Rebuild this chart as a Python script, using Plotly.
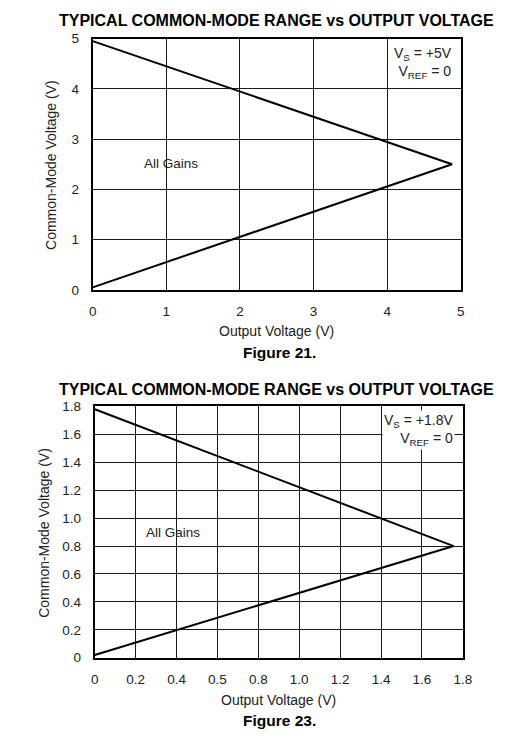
import plotly.graph_objects as go

W, H = 528, 752

# Figure 21 data (Vs = +5V)
x21 = [0.0, 4.88, 0.0]
y21 = [4.95, 2.5, 0.05]
x21_ticks = [0, 1, 2, 3, 4, 5]
x21_text = ["0", "1", "2", "3", "4", "5"]
y21_ticks = [0, 1, 2, 3, 4, 5]
y21_text = ["0", "1", "2", "3", "4", "5"]

# Figure 23 data (Vs = +1.8V)
x23 = [0.0, 1.755, 0.0]
y23 = [1.78, 0.80, 0.02]
x23_ticks = [0, 0.2, 0.4, 0.6, 0.8, 1.0, 1.2, 1.4, 1.6, 1.8]
x23_text = ["0", "0.2", "0.4", "0.5", "0.8", "1.0", "1.2", "1.4", "1.6", "1.8"]
y23_ticks = [0, 0.2, 0.4, 0.6, 0.8, 1.0, 1.2, 1.4, 1.6, 1.8]
y23_text = ["0", "0.2", "0.4", "0.6", "0.8", "1.0", "1.2", "1.4", "1.6", "1.8"]

FONT = "Liberation Sans, Arial, sans-serif"
TXT = "#222222"

# map target pixel positions to paper coordinates (compensating render offset/scale)
def px(x):
    return ((x - 3.3) / 0.975) / W

def py(y):
    return 1 - ((y - 6.3) / 0.983) / H

fig = go.Figure()
fig.add_trace(go.Scatter(x=x21, y=y21, mode="lines", line=dict(color="black", width=2),
                         xaxis="x", yaxis="y", showlegend=False, hoverinfo="skip"))
fig.add_trace(go.Scatter(x=x23, y=y23, mode="lines", line=dict(color="black", width=2),
                         xaxis="x2", yaxis="y2", showlegend=False, hoverinfo="skip"))

axis_common = dict(showgrid=True, gridcolor="#1a1a1a", gridwidth=1,
                   showline=True, linecolor="black", linewidth=2, mirror=True,
                   zeroline=False, ticks="", fixedrange=True,
                   tickfont=dict(family=FONT, size=13.5, color=TXT))

fig.update_layout(
    width=W, height=H,
    margin=dict(l=0, r=0, t=0, b=0),
    paper_bgcolor="white", plot_bgcolor="white",
    xaxis=dict(domain=[px(92), px(460)], range=[0, 5], tickvals=x21_ticks, ticktext=x21_text,
               anchor="y", ticklabelstandoff=8, **axis_common),
    yaxis=dict(domain=[py(290), py(38)], range=[0, 5], tickvals=y21_ticks, ticktext=y21_text,
               anchor="x", ticklabelstandoff=9, **axis_common),
    xaxis2=dict(domain=[px(94), px(462)], range=[0, 1.8], tickvals=x23_ticks, ticktext=x23_text,
                anchor="y2", ticklabelstandoff=8, **axis_common),
    yaxis2=dict(domain=[py(659), py(407)], range=[0, 1.8], tickvals=y23_ticks, ticktext=y23_text,
                anchor="x2", ticklabelstandoff=9, **axis_common),
)

def ann(text, x, y, size=13, bold=False, xanchor="center", yanchor="middle", angle=0,
        bg=None, align="center"):
    t = f"<b>{text}</b>" if bold else text
    d = dict(text=t, x=px(x), y=py(y), xref="paper", yref="paper", showarrow=False,
             xanchor=xanchor, yanchor=yanchor, textangle=angle, align=align,
             font=dict(family=FONT, size=size, color="black" if bold else TXT))
    if bg:
        d["bgcolor"] = bg
    fig.add_annotation(**d)

# Figure 21 texts
ann("TYPICAL COMMON-MODE RANGE vs OUTPUT VOLTAGE", 276, 20, size=16, bold=True)
ann("Output Voltage (V)", 276, 331, size=14)
ann("Figure 21.", 279, 353, size=15.5, bold=True)
ann("Common-Mode Voltage (V)", 51, 165, size=14, angle=-90)
ann("All Gains", 170, 163, size=13.5)
ann("V<sub>S</sub> = +5V<br>V<sub>REF</sub> = 0", 453, 42, size=14, xanchor="right",
    yanchor="top", align="right", bg="white")

# Figure 23 texts
ann("TYPICAL COMMON-MODE RANGE vs OUTPUT VOLTAGE", 276, 390, size=16, bold=True)
ann("Output Voltage (V)", 278, 701, size=14)
ann("Figure 23.", 279, 722, size=15.5, bold=True)
ann("Common-Mode Voltage (V)", 43, 534, size=14, angle=-90)
ann("All Gains", 172, 533, size=13.5)
ann("V<sub>S</sub> = +1.8V<br>V<sub>REF</sub> = 0", 454, 411, size=14, xanchor="right",
    yanchor="top", align="right", bg="white")

fig.write_html("out.html", config={"displayModeBar": False, "staticPlot": True},
               post_script="document.body.style.margin='0';document.body.style.overflow='hidden';")
